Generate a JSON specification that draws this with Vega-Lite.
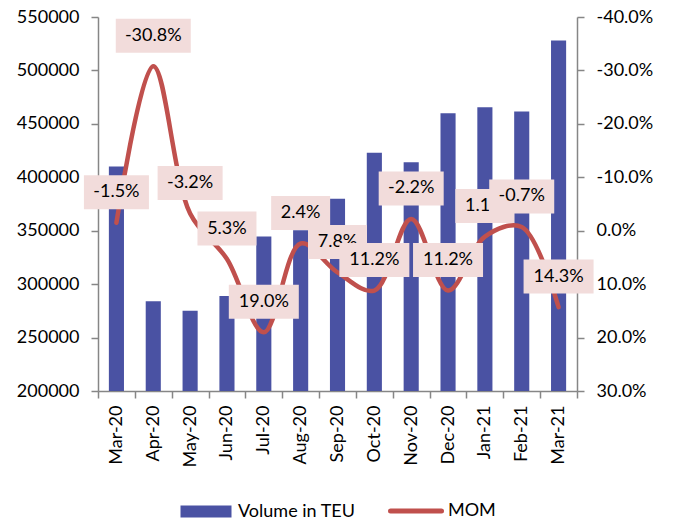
{
  "$schema": "https://vega.github.io/schema/vega-lite/v6.json",
  "width": 479,
  "height": 374,
  "padding": {"left": 16, "top": 8, "right": 5, "bottom": 5},
  "background": "white",
  "config": {
    "locale": {
      "number": {"decimal": ".", "thousands": ",", "grouping": [3], "currency": ["$", ""], "minus": "-"}
    },
    "view": {"stroke": null},
    "font": "Lato",
    "axis": {
      "labelFont": "Lato",
      "labelFontSize": 18,
      "labelColor": "#000000",
      "domainColor": "#868686",
      "domainWidth": 1.5,
      "tickColor": "#868686",
      "tickWidth": 1.5,
      "tickSize": 7,
      "grid": false,
      "title": null
    }
  },
  "data": {
    "values": [
      {"month": "Mar-20", "teu": 410000, "mom": -0.015},
      {"month": "Apr-20", "teu": 284000, "mom": -0.308},
      {"month": "May-20", "teu": 275000, "mom": -0.032},
      {"month": "Jun-20", "teu": 289000, "mom": 0.053},
      {"month": "Jul-20", "teu": 344500, "mom": 0.190},
      {"month": "Aug-20", "teu": 350500, "mom": 0.024},
      {"month": "Sep-20", "teu": 380000, "mom": 0.078},
      {"month": "Oct-20", "teu": 423000, "mom": 0.112},
      {"month": "Nov-20", "teu": 414000, "mom": -0.022},
      {"month": "Dec-20", "teu": 460000, "mom": 0.112},
      {"month": "Jan-21", "teu": 465500, "mom": 0.011},
      {"month": "Feb-21", "teu": 461500, "mom": -0.007},
      {"month": "Mar-21", "teu": 528000, "mom": 0.143}
    ]
  },
  "transform": [
    {"window": [{"op": "row_number", "as": "idx"}]},
    {"calculate": "length(format(datum.mom, '.1%')) + (datum.mom < 0 ? 'n' : 'p')", "as": "kind"}
  ],
  "encoding": {
    "x": {
      "field": "month",
      "type": "ordinal",
      "sort": null,
      "scale": {"paddingInner": 0, "paddingOuter": 0},
      "axis": {"labelAngle": -90, "tickBand": "extent", "labelPadding": 7}
    }
  },
  "layer": [
    {
      "mark": {"type": "bar", "width": {"band": 0.41}},
      "encoding": {
        "y": {
          "field": "teu",
          "type": "quantitative",
          "scale": {"domain": [200000, 550000], "zero": false, "nice": false},
          "axis": {
            "orient": "left",
            "values": [200000, 250000, 300000, 350000, 400000, 450000, 500000, 550000],
            "format": "d",
            "labelPadding": 12
          }
        },
        "y2": {"datum": 200000},
        "color": {
          "datum": "Volume in TEU",
          "scale": {"domain": ["Volume in TEU", "MOM"], "range": ["#4A52A3", "#C0504D"]},
          "legend": {
            "orient": "none",
            "legendX": 99,
            "legendY": 485,
            "direction": "horizontal",
            "title": null,
            "labelFont": "Lato",
            "labelFontSize": 18,
            "labelColor": "#000000",
            "symbolSize": 2601,
            "symbolType": "M-1,-0.235H1V0.235H-1Z",
            "labelOffset": 23,
            "columnPadding": 24,
            "encode": {
              "symbols": {
                "update": {
                  "shape": {"signal": "datum.value === 'MOM' ? 'M-1,0H1' : 'M-1,-0.235H1V0.235H-1Z'"},
                  "fill": {"signal": "datum.value === 'MOM' ? 'transparent' : '#4A52A3'"},
                  "stroke": {"signal": "datum.value === 'MOM' ? '#C0504D' : 'transparent'"},
                  "strokeWidth": {"signal": "datum.value === 'MOM' ? 5 : 0"},
                  "strokeCap": {"value": "round"},
                  "opacity": {"value": 1}
                }
              }
            }
          }
        }
      }
    },
    {
      "encoding": {
        "y": {
          "field": "mom",
          "type": "quantitative",
          "scale": {"domain": [-0.4, 0.3], "reverse": true, "zero": false, "nice": false},
          "axis": {
            "orient": "right",
            "values": [-0.4, -0.3, -0.2, -0.1, 0, 0.1, 0.2, 0.3],
            "format": ".1%",
            "labelPadding": 12
          }
        }
      },
      "layer": [
        {
          "mark": {"type": "line", "interpolate": "catmull-rom", "strokeWidth": 4.5, "strokeCap": "round"},
          "encoding": {"color": {"datum": "MOM"}}
        },
        {
          "transform": [{"filter": "datum.idx % 2 == 1"}],
          "mark": {"type": "point", "filled": true, "fill": "#F2DCDB", "opacity": 1, "strokeWidth": 0, "size": 10000, "yOffset": -30.5},
          "encoding": {
            "shape": {
              "field": "kind",
              "type": "nominal",
              "scale": {
                "domain": ["4p", "5n", "5p", "6n"],
                "range": ["M-0.59,-0.34H0.59V0.34H-0.59Z", "M-0.65,-0.34H0.65V0.34H-0.65Z", "M-0.7,-0.34H0.7V0.34H-0.7Z", "M-0.75,-0.34H0.75V0.34H-0.75Z"]
              },
              "legend": null
            }
          }
        },
        {
          "transform": [{"filter": "datum.idx % 2 == 1"}],
          "mark": {"type": "text", "font": "Lato", "fontSize": 18, "color": "#000000", "baseline": "middle", "align": "center", "yOffset": -30.5},
          "encoding": {"text": {"field": "mom", "type": "quantitative", "format": ".1%"}}
        },
        {
          "transform": [{"filter": "datum.idx % 2 == 0"}],
          "mark": {"type": "point", "filled": true, "fill": "#F2DCDB", "opacity": 1, "strokeWidth": 0, "size": 10000, "yOffset": -30.5},
          "encoding": {
            "shape": {"field": "kind", "type": "nominal", "legend": null}
          }
        },
        {
          "transform": [{"filter": "datum.idx % 2 == 0"}],
          "mark": {"type": "text", "font": "Lato", "fontSize": 18, "color": "#000000", "baseline": "middle", "align": "center", "yOffset": -30.5},
          "encoding": {"text": {"field": "mom", "type": "quantitative", "format": ".1%"}}
        }
      ]
    }
  ],
  "resolve": {"scale": {"y": "independent"}}
}
